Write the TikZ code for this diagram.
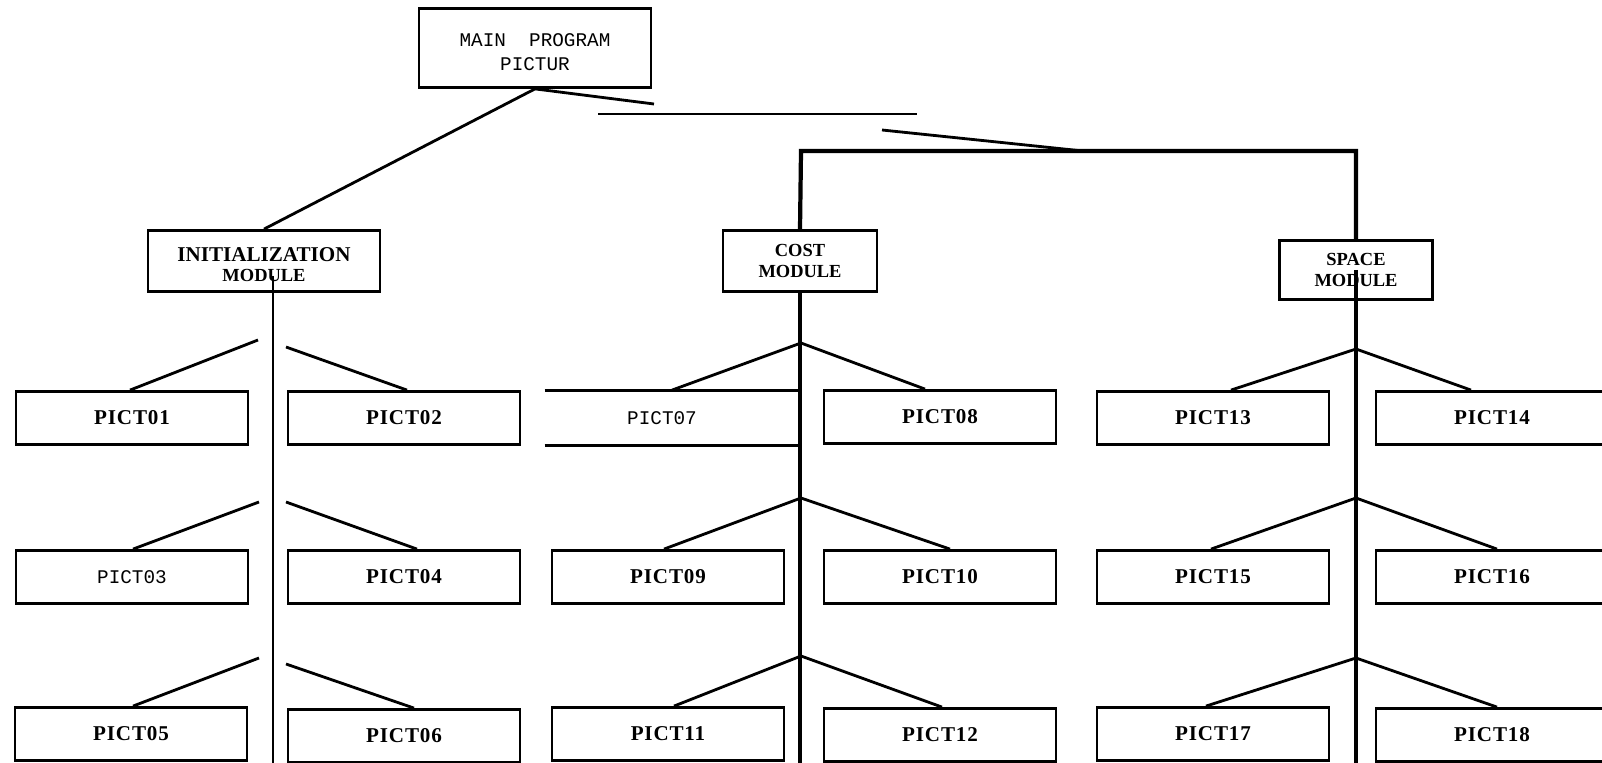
\documentclass[tikz,border=0pt]{standalone}
\usepackage{fontspec}
\setmainfont{Liberation Serif}
\setmonofont{Liberation Mono}

\tikzset{
  chartbox/.style={draw, line width=1.6pt, inner sep=0pt, align=center},
  pict/.style={chartbox, minimum width=4.64cm, minimum height=1.06cm,
    font=\fontsize{12}{12}\selectfont\bfseries\addfontfeature{LetterSpace=4}},
  module/.style={chartbox, minimum height=1.22cm,
    font=\fontsize{10.5}{11.5}\selectfont\bfseries},
  typed/.style={font=\fontsize{11}{13.5}\selectfont\ttfamily},
  link/.style={line width=1.6pt},
  spine/.style={line width=2.4pt},
  thinspine/.style={line width=1pt},
}

\begin{document}
\begin{tikzpicture}[x=0.02cm, y=-0.02cm]
  \useasboundingbox (0,0) rectangle (1602,763);
  \coordinate (floor) at (0,763);

  % main program and the three modules
  \node[chartbox, typed, minimum width=4.64cm, minimum height=1.58cm] (main) at (535,48)
    {\rule{0pt}{12pt}MAIN\ \ PROGRAM\\PICTUR};
  \node[module, minimum width=4.64cm] (init) at (264,261)
    {\rule{0pt}{12pt}{\fontsize{12}{12}\selectfont INITIALIZATION}\\MODULE};
  \node[module, minimum width=3.08cm] (cost) at (800,261) {COST\\MODULE};
  \node[module, minimum width=3.06cm, minimum height=1.18cm] (space) at (1356,270) {SPACE\\MODULE};

  % picture routines, left group
  \node[pict] (p01) at (132,418) {PICT01};
  \node[pict] (p02) at (404,418) {PICT02};
  \node[pict, typed] (p03) at (132,577) {PICT03};
  \node[pict] (p04) at (404,577) {PICT04};
  \node[pict] (p05) at (131,734) {PICT05};
  \node[pict] (p06) at (404,736) {PICT06};
  % middle group
  \node[pict, typed, draw=none] (p07) at (662,418) {PICT07};
  \node[pict] (p08) at (940,417) {PICT08};
  \node[pict] (p09) at (668,577) {PICT09};
  \node[pict] (p10) at (940,577) {PICT10};
  \node[pict] (p11) at (668,734) {PICT11};
  \node[pict] (p12) at (940,735) {PICT12};
  % right group (right column runs off the sheet)
  \node[pict] (p13) at (1213,418) {PICT13};
  \node[pict] (p14) at (1492,418) {PICT14};
  \node[pict] (p15) at (1213,577) {PICT15};
  \node[pict] (p16) at (1492,577) {PICT16};
  \node[pict] (p17) at (1213,734) {PICT17};
  \node[pict] (p18) at (1492,735) {PICT18};

  % links from the main program (broken in the copy)
  \coordinate (gapA) at (654,104);
  \coordinate (barL) at (598,114);
  \coordinate (barR) at (917,114);
  \coordinate (slantA) at (882,130);
  \coordinate (slantB) at (1083,151);
  \coordinate (bus) at (801,151);
  \draw[link] (main.south) -- (init.north);
  \draw[link] (main.south) -- (gapA);
  \draw[link] (barL) -- (barR);
  \draw[link] (slantA) -- (slantB);
  \draw[spine] (cost.north) -- (bus) -| (space.north);

  % vertical spines
  \coordinate (ispine) at (273,276);
  \draw[thinspine] (ispine) -- (ispine |- floor);
  \draw[spine] (cost.south) -- (cost.south |- floor);
  \draw[spine] (space.center) -- (space.center |- floor);

  % branches
  \coordinate (c1) at (801,343);
  \coordinate (c2) at (801,498);
  \coordinate (c3) at (801,656);
  \coordinate (s1) at (1356,349);
  \coordinate (s2) at (1356,498);
  \coordinate (s3) at (1356,658);
  \draw[link] (p07.north west) -- (p07.north west -| c1)
              (p07.south west) -- (p07.south west -| c1);
  \foreach \a/\l/\dl/\r/\dr in {c1/p07/10/p08/-15, c2/p09/-4/p10/10, c3/p11/6/p12/2,
                                s1/p13/18/p14/-21, s2/p15/-2/p16/5, s3/p17/-7/p18/5}
    \draw[link] ([xshift=\dl*0.02cm]\l.north) -- (\a) -- ([xshift=\dr*0.02cm]\r.north);
  \coordinate (i1l) at (258,340);
  \coordinate (i1r) at (286,347);
  \coordinate (i2l) at (259,502);
  \coordinate (i2r) at (286,502);
  \coordinate (i3l) at (259,658);
  \coordinate (i3r) at (286,664);
  \foreach \a/\b/\l/\dl/\r/\dr in {i1l/i1r/p01/-2/p02/3, i2l/i2r/p03/1/p04/13, i3l/i3r/p05/2/p06/10}
    \draw[link] (\a) -- ([xshift=\dl*0.02cm]\l.north) (\b) -- ([xshift=\dr*0.02cm]\r.north);
\end{tikzpicture}
\end{document}
